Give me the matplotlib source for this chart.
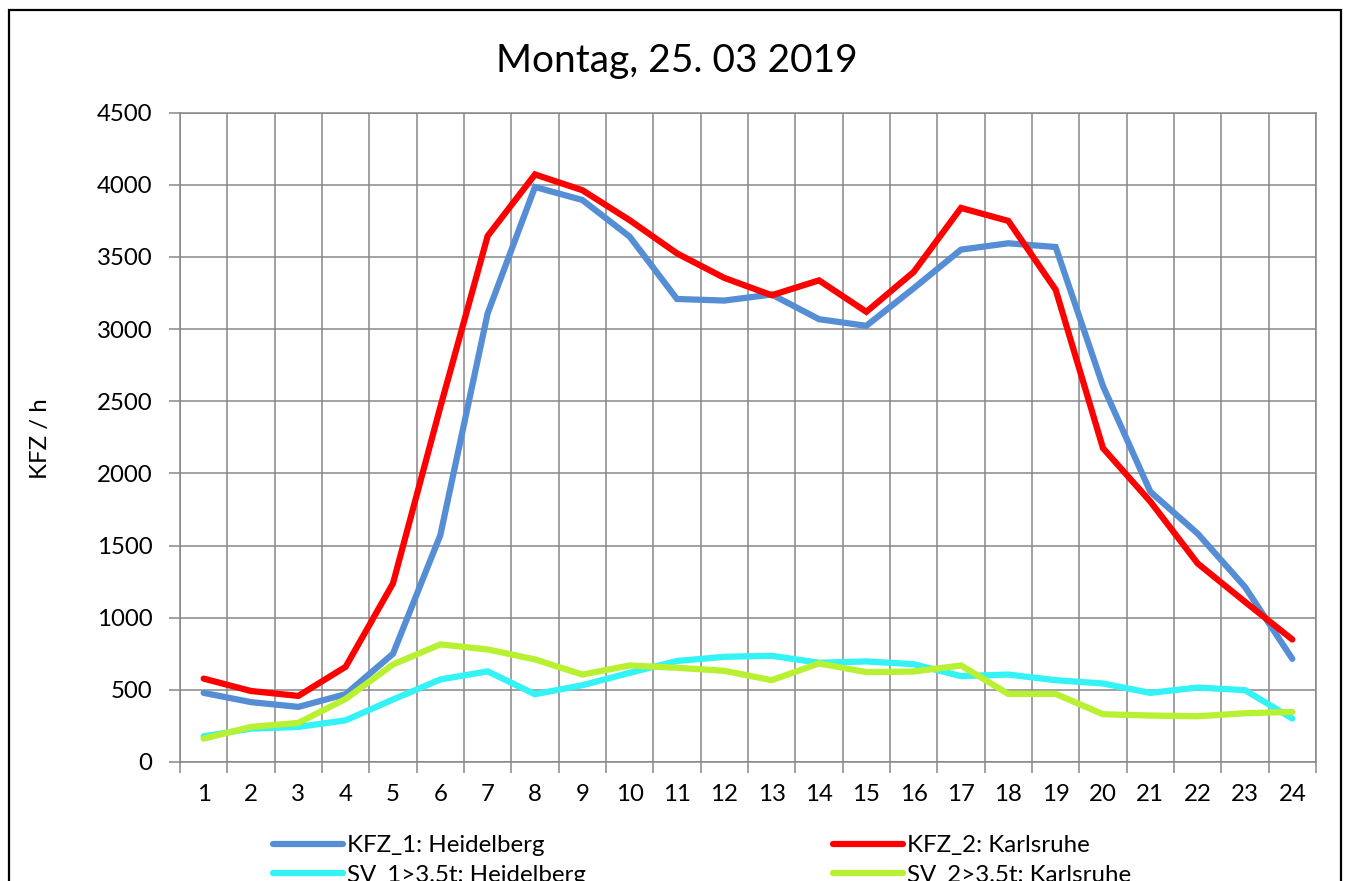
import numpy as np
import matplotlib
matplotlib.use("Agg")
import matplotlib.pyplot as plt
from matplotlib.patches import Rectangle

plt.rcParams['font.family'] = ['Lato', 'DejaVu Sans']

# ---------- data ---------------------------------------------------
hours = np.arange(1, 25)
kfz_1 = [479, 415, 382, 470, 750, 1572, 3110, 3985, 3895, 3641, 3209, 3198,
         3240, 3069, 3023, 3283, 3551, 3595, 3569, 2605, 1873, 1583, 1213, 715]
kfz_2 = [578, 492, 458, 660, 1238, 2460, 3646, 4072, 3963, 3755, 3525, 3355,
         3235, 3338, 3120, 3396, 3840, 3750, 3273, 2175, 1805, 1376, 1110, 849]
sv_1 = [178, 231, 243, 289, 433, 572, 628, 470, 532, 618, 700, 729,
        736, 688, 697, 678, 595, 606, 567, 544, 479, 516, 498, 301]
sv_2 = [162, 243, 271, 437, 676, 815, 780, 711, 606, 669, 653, 632,
        567, 683, 623, 627, 669, 472, 472, 331, 322, 317, 338, 347]

labels = ["KFZ_1: Heidelberg", "KFZ_2: Karlsruhe",
          "SV_1>3.5t: Heidelberg", "SV_2>3.5t: Karlsruhe"]
colors = ["#558ED5", "#FF0000", "#33F3F6", "#B8F032"]

W, H = 1351, 881
FS = 17.3
fig = plt.figure(figsize=(W / 100, H / 100), dpi=100)
ax = fig.add_axes([180 / W, 1 - 762 / H, (1316 - 180) / W, (762 - 112.7) / H])

grid_c = "#878787"
for s, lab, c in zip([kfz_1, sv_1, kfz_2, sv_2],
                     [labels[0], labels[2], labels[1], labels[3]],
                     [colors[0], colors[2], colors[1], colors[3]]):
    ax.plot(hours, s, color=c, lw=4.5, label=lab, solid_capstyle='round',
            solid_joinstyle='miter', zorder=3)

ax.set_xlim(0.5, 24.5)
ax.set_ylim(0, 4500)
ax.set_yticks(np.arange(0, 4501, 500))
ax.set_xticks(hours)
ax.set_xticks(np.arange(0.5, 25, 1), minor=True)
ax.tick_params(axis='x', which='major', length=0, pad=16, labelsize=FS)
ax.tick_params(axis='x', which='minor', length=8, width=1.1, color=grid_c, direction='out')
ax.tick_params(axis='y', length=8, width=1.1, color=grid_c, pad=12, labelsize=FS)
ax.grid(True, axis='y', which='major', color=grid_c, lw=1.1, zorder=1)
ax.grid(True, axis='x', which='minor', color=grid_c, lw=1.1, zorder=1)
for sp in ax.spines.values():
    sp.set_color(grid_c)
    sp.set_linewidth(1.1)

fig.text(677 / W, 1 - 61 / H, "Montag, 25. 03 2019", fontsize=28,
         ha='center', va='center')
fig.text(40 / W, 1 - 439 / H, "KFZ / h", fontsize=FS, rotation=90,
         ha='center', va='center')

# legend in order: row1 KFZ_1 | KFZ_2, row2 SV_1 | SV_2
h, l = ax.get_legend_handles_labels()
fig.legend(h, l, ncol=2, loc='upper left', bbox_to_anchor=(273 / W, 1 - 835 / H),
           frameon=False, fontsize=FS, handlelength=2.9, handletextpad=0.17,
           columnspacing=10.3, labelspacing=0.37, borderpad=0, borderaxespad=0)

fig.patches.append(Rectangle((9 / W, -0.1), (1341 - 9) / W, 1.1 - 10 / H,
                             transform=fig.transFigure, fill=False,
                             edgecolor='black', lw=1.6))

fig.savefig("out.png", dpi=100)
